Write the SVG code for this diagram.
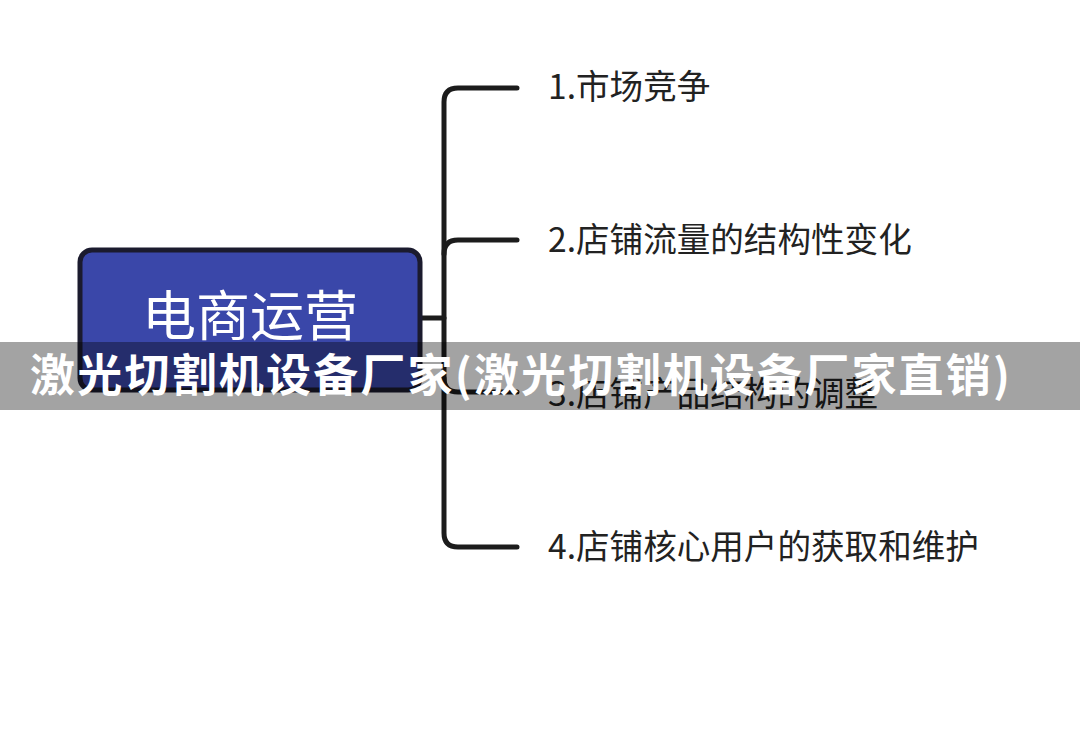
<svg xmlns="http://www.w3.org/2000/svg" width="1080" height="731" viewBox="0 0 1080 731">
<style>
.lbl{font-family:"Noto Sans CJK SC","Liberation Sans",sans-serif;font-size:33.6px;fill:#222}
.conn{fill:none;stroke:#1c1c1c;stroke-width:5;stroke-linecap:round}
</style>
<rect width="1080" height="731" fill="#ffffff"/>
<g id="connectors">
<path class="conn" d="M422 318 H444"/>
<path class="conn" d="M517 88 H458 Q444 88 444 102 V533 Q444 547 458 547 H517"/>
<path class="conn" d="M517 240 H458 Q444 240 444 254"/>
<path class="conn" d="M517 392 H458 Q444 392 444 378"/>
</g>
<g id="root">
<rect x="80" y="250" width="340" height="140" rx="12" fill="#3a47a9" stroke="#1b1b2e" stroke-width="5"/>
<text x="250" y="336" text-anchor="middle" font-family="Noto Sans CJK SC,sans-serif" font-size="54" fill="#ffffff">电商运营</text>
</g>
<g id="n1"><text class="lbl" x="548" y="99">1.市场竞争</text></g>
<g id="n2"><text class="lbl" x="548" y="252">2.店铺流量的结构性变化</text></g>
<g id="n3"><text class="lbl" x="548" y="406">3.店铺产品结构的调整</text></g>
<g id="n4"><text class="lbl" x="548" y="559">4.店铺核心用户的获取和维护</text></g>
<g id="banner">
<rect x="0" y="342" width="1080" height="68" fill="#000000" fill-opacity="0.36"/>
<text x="30" y="392" font-family="Noto Sans CJK SC,sans-serif" font-weight="bold" font-size="45" fill="#ffffff" textLength="980" lengthAdjust="spacing">激光切割机设备厂家(激光切割机设备厂家直销)</text>
</g>
</svg>
